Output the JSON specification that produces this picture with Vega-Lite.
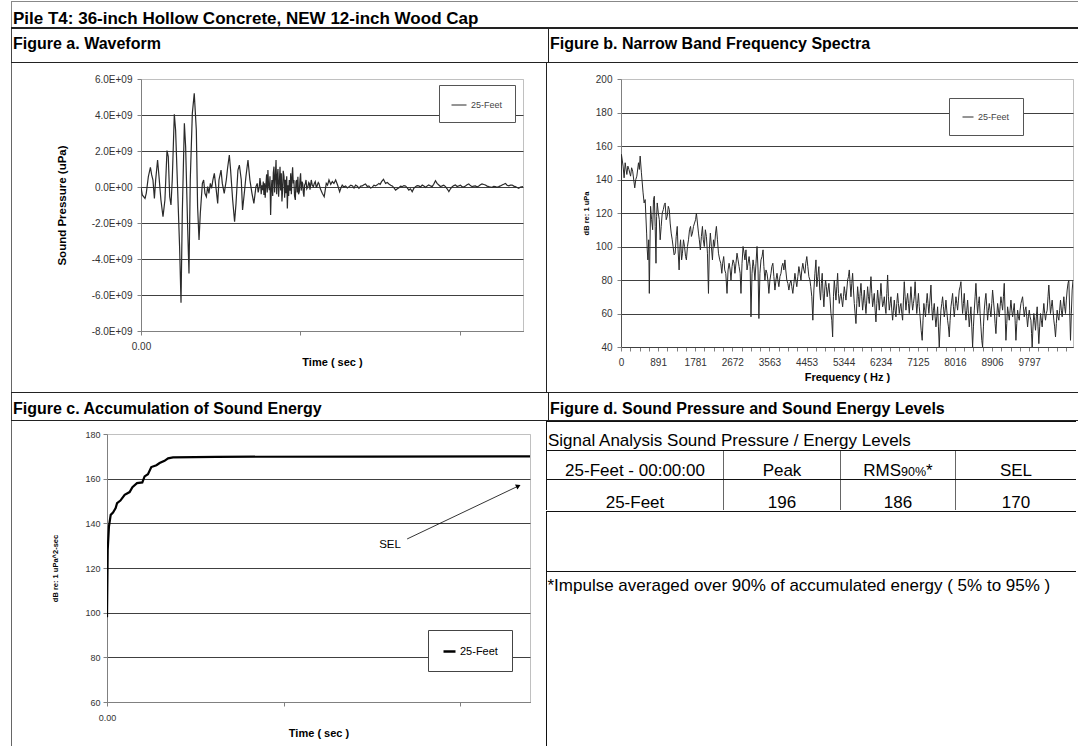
{
"$schema": "https://vega.github.io/schema/vega-lite/v6.json",
"background": "white",
"padding": {"left": 11, "top": 1, "right": 0, "bottom": 0},
"spacing": 0,
"bounds": "full",
"resolve": {"scale": {"color": "independent"}},
"config": {
  "font": "Liberation Sans",
  "view": {"stroke": null},
  "axis": {"labelFlush": false, "labelOverlap": false, "domainColor": "#808080", "tickColor": "#808080", "tickSize": 4, "labelColor": "#333333", "titleColor": "#000000", "titleFontWeight": "bold", "labelFontSize": 10, "gridColor": "#404040", "gridOpacity": 1},
  "text": {"color": "#000000"}
},
"datasets": {
"wave": [{"t":0,"p":0},{"t":0.008,"p":-0.44e9},{"t":0.025,"p":-0.63e9},{"t":0.033,"p":-0.35e9},{"t":0.046,"p":0.57e9},{"t":0.059,"p":1.09e9},{"t":0.067,"p":0.67e9},{"t":0.075,"p":0.39e9},{"t":0.084,"p":-0.63e9},{"t":0.092,"p":0.39e9},{"t":0.104,"p":1.5e9},{"t":0.113,"p":0.57e9},{"t":0.125,"p":-0.72e9},{"t":0.138,"p":-1.65e9},{"t":0.15,"p":-0.72e9},{"t":0.163,"p":2.02e9},{"t":0.171,"p":1.69e9},{"t":0.18,"p":-0.54e9},{"t":0.188,"p":-1.0e9},{"t":0.196,"p":0.39e9},{"t":0.209,"p":4.04e9},{"t":0.217,"p":3.17e9},{"t":0.23,"p":-0.17e9},{"t":0.242,"p":-3.3e9},{"t":0.251,"p":-6.43e9},{"t":0.259,"p":-1.46e9},{"t":0.272,"p":3.54e9},{"t":0.28,"p":2.24e9},{"t":0.293,"p":-2.39e9},{"t":0.301,"p":-4.8e9},{"t":0.309,"p":0.39e9},{"t":0.322,"p":4.09e9},{"t":0.334,"p":5.2e9},{"t":0.347,"p":3.17e9},{"t":0.355,"p":-1.09e9},{"t":0.364,"p":-2.94e9},{"t":0.372,"p":-1.46e9},{"t":0.385,"p":0.2e9},{"t":0.393,"p":0.39e9},{"t":0.401,"p":-0.35e9},{"t":0.41,"p":-0.54e9},{"t":0.418,"p":0.02e9},{"t":0.426,"p":-0.35e9},{"t":0.435,"p":0.2e9},{"t":0.443,"p":-0.07e9},{"t":0.451,"p":0.39e9},{"t":0.46,"p":0.76e9},{"t":0.472,"p":-0.17e9},{"t":0.481,"p":-0.91e9},{"t":0.489,"p":0.39e9},{"t":0.502,"p":0.94e9},{"t":0.51,"p":0.2e9},{"t":0.522,"p":-0.35e9},{"t":0.535,"p":0.39e9},{"t":0.543,"p":1.04e9},{"t":0.554,"p":1.78e9},{"t":0.562,"p":0.94e9},{"t":0.575,"p":-0.72e9},{"t":0.587,"p":-1.93e9},{"t":0.596,"p":-0.91e9},{"t":0.608,"p":0.94e9},{"t":0.617,"p":1.22e9},{"t":0.629,"p":0.39e9},{"t":0.637,"p":-1.28e9},{"t":0.65,"p":-0.17e9},{"t":0.658,"p":0.57e9},{"t":0.671,"p":1.5e9},{"t":0.683,"p":0.39e9},{"t":0.696,"p":-0.35e9},{"t":0.708,"p":-0.91e9},{"t":0.721,"p":0.02e9},{"t":0.729,"p":0.2e9},{"t":0.735,"p":-0.3e9},{"t":0.742,"p":0.02e9},{"t":0.746,"p":0.5e9},{"t":0.75,"p":0.2e9},{"t":0.754,"p":-0.4e9},{"t":0.758,"p":0.1e9},{"t":0.763,"p":-0.17e9},{"t":0.767,"p":0.3e9},{"t":0.771,"p":-0.44e9},{"t":0.775,"p":0.2e9},{"t":0.779,"p":-0.6e9},{"t":0.784,"p":0.2e9},{"t":0.788,"p":0.7e9},{"t":0.792,"p":-0.3e9},{"t":0.796,"p":0.94e9},{"t":0.8,"p":0.1e9},{"t":0.805,"p":-0.17e9},{"t":0.809,"p":0.6e9},{"t":0.813,"p":-1.56e9},{"t":0.817,"p":-0.2e9},{"t":0.821,"p":0.39e9},{"t":0.826,"p":-0.5e9},{"t":0.83,"p":0.8e9},{"t":0.834,"p":1.13e9},{"t":0.838,"p":-0.3e9},{"t":0.842,"p":0.5e9},{"t":0.847,"p":1.5e9},{"t":0.851,"p":-0.4e9},{"t":0.855,"p":0.57e9},{"t":0.859,"p":1.0e9},{"t":0.863,"p":-0.54e9},{"t":0.868,"p":0.3e9},{"t":0.872,"p":1.13e9},{"t":0.876,"p":-0.2e9},{"t":0.88,"p":0.76e9},{"t":0.884,"p":-0.8e9},{"t":0.888,"p":-0.17e9},{"t":0.892,"p":0.9e9},{"t":0.897,"p":0.57e9},{"t":0.901,"p":-0.6e9},{"t":0.905,"p":0.4e9},{"t":0.909,"p":-0.35e9},{"t":0.914,"p":0.6e9},{"t":0.918,"p":-1.19e9},{"t":0.922,"p":0.1e9},{"t":0.926,"p":-0.5e9},{"t":0.93,"p":0.39e9},{"t":0.935,"p":-0.2e9},{"t":0.939,"p":0.76e9},{"t":0.943,"p":-0.4e9},{"t":0.947,"p":0.5e9},{"t":0.951,"p":1.09e9},{"t":0.955,"p":0.2e9},{"t":0.959,"p":0.39e9},{"t":0.963,"p":-0.5e9},{"t":0.968,"p":-0.72e9},{"t":0.972,"p":0.3e9},{"t":0.976,"p":0.39e9},{"t":0.98,"p":-0.3e9},{"t":0.984,"p":0.57e9},{"t":0.988,"p":-0.4e9},{"t":0.993,"p":-0.26e9},{"t":0.997,"p":0.4e9},{"t":1.001,"p":0.76e9},{"t":1.005,"p":-0.2e9},{"t":1.01,"p":0.3e9},{"t":1.014,"p":0.2e9},{"t":1.018,"p":-0.3e9},{"t":1.022,"p":-0.54e9},{"t":1.026,"p":0.1e9},{"t":1.031,"p":0.2e9},{"t":1.035,"p":0.39e9},{"t":1.04,"p":-0.1e9},{"t":1.047,"p":0.02e9},{"t":1.052,"p":0.25e9},{"t":1.056,"p":0.2e9},{"t":1.06,"p":-0.15e9},{"t":1.068,"p":0.39e9},{"t":1.074,"p":0.1e9},{"t":1.081,"p":0.02e9},{"t":1.087,"p":0.2e9},{"t":1.093,"p":0.3e9},{"t":1.1,"p":-0.05e9},{"t":1.106,"p":0.11e9},{"t":1.112,"p":0.25e9},{"t":1.116,"p":0.2e9},{"t":1.125,"p":-0.1e9},{"t":1.137,"p":-0.35e9},{"t":1.149,"p":-0.54e9},{"t":1.155,"p":-0.2e9},{"t":1.162,"p":0.2e9},{"t":1.17,"p":0.1e9},{"t":1.179,"p":0.39e9},{"t":1.19,"p":0.15e9},{"t":1.2,"p":0.3e9},{"t":1.21,"p":0.2e9},{"t":1.221,"p":0.39e9},{"t":1.233,"p":0.11e9},{"t":1.246,"p":-0.26e9},{"t":1.254,"p":-0.05e9},{"t":1.262,"p":0.11e9},{"t":1.272,"p":0},{"t":1.283,"p":0.06e9},{"t":1.294,"p":-0.05e9},{"t":1.305,"p":0.02e9},{"t":1.316,"p":0.1e9},{"t":1.327,"p":0.06e9},{"t":1.336,"p":-0.06e9},{"t":1.346,"p":0.11e9},{"t":1.357,"p":0.04e9},{"t":1.367,"p":-0.07e9},{"t":1.378,"p":0.05e9},{"t":1.388,"p":0.06e9},{"t":1.398,"p":0.12e9},{"t":1.408,"p":0.17e9},{"t":1.419,"p":0.03e9},{"t":1.429,"p":0.06e9},{"t":1.44,"p":-0.06e9},{"t":1.45,"p":-0.02e9},{"t":1.461,"p":0.1e9},{"t":1.471,"p":0.06e9},{"t":1.482,"p":0.12e9},{"t":1.492,"p":0.2e9},{"t":1.5,"p":0.15e9},{"t":1.509,"p":0.3e9},{"t":1.521,"p":0.43e9},{"t":1.534,"p":0.2e9},{"t":1.545,"p":0.25e9},{"t":1.555,"p":0.17e9},{"t":1.566,"p":0.1e9},{"t":1.576,"p":0.06e9},{"t":1.587,"p":-0.05e9},{"t":1.597,"p":-0.17e9},{"t":1.608,"p":-0.1e9},{"t":1.618,"p":-0.04e9},{"t":1.628,"p":0.05e9},{"t":1.638,"p":0.02e9},{"t":1.649,"p":0.08e9},{"t":1.659,"p":0.06e9},{"t":1.67,"p":-0.05e9},{"t":1.68,"p":-0.17e9},{"t":1.69,"p":-0.1e9},{"t":1.701,"p":-0.26e9},{"t":1.711,"p":-0.08e9},{"t":1.722,"p":0.02e9},{"t":1.732,"p":0.08e9},{"t":1.743,"p":0.06e9},{"t":1.753,"p":0},{"t":1.764,"p":0.11e9},{"t":1.774,"p":0.05e9},{"t":1.785,"p":-0.02e9},{"t":1.795,"p":0.06e9},{"t":1.805,"p":0.11e9},{"t":1.816,"p":0.06e9},{"t":1.826,"p":0.02e9},{"t":1.836,"p":0.15e9},{"t":1.847,"p":0.35e9},{"t":1.857,"p":0.2e9},{"t":1.868,"p":0.11e9},{"t":1.878,"p":0.03e9},{"t":1.889,"p":0.06e9},{"t":1.899,"p":0.1e9},{"t":1.91,"p":0.02e9},{"t":1.92,"p":-0.1e9},{"t":1.931,"p":-0.26e9},{"t":1.941,"p":-0.1e9},{"t":1.952,"p":0.02e9},{"t":1.962,"p":0.08e9},{"t":1.972,"p":0.11e9},{"t":1.983,"p":0.03e9},{"t":1.993,"p":0.06e9},{"t":2.004,"p":0.1e9},{"t":2.014,"p":0.02e9},{"t":2.024,"p":0},{"t":2.035,"p":0.06e9},{"t":2.045,"p":0.12e9},{"t":2.056,"p":0.17e9},{"t":2.066,"p":0.08e9},{"t":2.077,"p":0.02e9},{"t":2.087,"p":0.05e9},{"t":2.098,"p":0.06e9},{"t":2.108,"p":0},{"t":2.119,"p":0.06e9},{"t":2.129,"p":0.12e9},{"t":2.139,"p":0.17e9},{"t":2.15,"p":0.14e9},{"t":2.16,"p":0.11e9},{"t":2.171,"p":0.05e9},{"t":2.181,"p":0.02e9},{"t":2.192,"p":0},{"t":2.202,"p":-0.02e9},{"t":2.212,"p":0.03e9},{"t":2.223,"p":0.02e9},{"t":2.233,"p":-0.02e9},{"t":2.244,"p":0.02e9},{"t":2.254,"p":0.06e9},{"t":2.265,"p":0.11e9},{"t":2.275,"p":0.15e9},{"t":2.286,"p":0.2e9},{"t":2.296,"p":0.1e9},{"t":2.307,"p":0.06e9},{"t":2.317,"p":0.1e9},{"t":2.328,"p":0.11e9},{"t":2.338,"p":0.05e9},{"t":2.348,"p":0.02e9},{"t":2.359,"p":-0.03e9},{"t":2.369,"p":-0.07e9},{"t":2.38,"p":0},{"t":2.396,"p":0.02e9}],
"spec": [{"f":0,"db":40},{"f":10,"db":155},{"f":50,"db":148},{"f":75,"db":141},{"f":100,"db":150},{"f":140,"db":143},{"f":165,"db":148},{"f":190,"db":146},{"f":230,"db":142},{"f":255,"db":147},{"f":280,"db":145},{"f":330,"db":135},{"f":355,"db":140},{"f":380,"db":142},{"f":420,"db":150},{"f":440,"db":146},{"f":460,"db":154},{"f":490,"db":144},{"f":530,"db":132},{"f":555,"db":126},{"f":580,"db":128},{"f":615,"db":108},{"f":630,"db":98},{"f":645,"db":92},{"f":665,"db":104},{"f":680,"db":72},{"f":695,"db":100},{"f":710,"db":124},{"f":735,"db":116},{"f":760,"db":110},{"f":780,"db":128},{"f":800,"db":130},{"f":820,"db":112},{"f":840,"db":90},{"f":855,"db":118},{"f":870,"db":126},{"f":895,"db":120},{"f":920,"db":116},{"f":940,"db":104},{"f":965,"db":112},{"f":990,"db":120},{"f":1015,"db":122},{"f":1040,"db":125},{"f":1060,"db":126},{"f":1085,"db":116},{"f":1110,"db":118},{"f":1135,"db":124},{"f":1160,"db":122},{"f":1180,"db":114},{"f":1205,"db":108},{"f":1230,"db":104},{"f":1250,"db":100},{"f":1275,"db":95},{"f":1300,"db":96},{"f":1325,"db":106},{"f":1350,"db":112},{"f":1370,"db":98},{"f":1395,"db":86},{"f":1415,"db":100},{"f":1430,"db":104},{"f":1455,"db":92},{"f":1475,"db":96},{"f":1500,"db":104},{"f":1525,"db":100},{"f":1550,"db":94},{"f":1570,"db":92},{"f":1595,"db":100},{"f":1620,"db":104},{"f":1645,"db":110},{"f":1670,"db":112},{"f":1690,"db":106},{"f":1715,"db":108},{"f":1740,"db":112},{"f":1765,"db":114},{"f":1790,"db":116},{"f":1810,"db":120},{"f":1835,"db":114},{"f":1860,"db":108},{"f":1880,"db":104},{"f":1905,"db":98},{"f":1930,"db":106},{"f":1955,"db":112},{"f":1975,"db":104},{"f":2000,"db":100},{"f":2025,"db":110},{"f":2050,"db":106},{"f":2075,"db":96},{"f":2100,"db":72},{"f":2120,"db":98},{"f":2145,"db":108},{"f":2170,"db":100},{"f":2195,"db":92},{"f":2220,"db":104},{"f":2245,"db":100},{"f":2270,"db":108},{"f":2290,"db":112},{"f":2315,"db":104},{"f":2340,"db":96},{"f":2370,"db":92},{"f":2395,"db":90},{"f":2420,"db":84},{"f":2440,"db":90},{"f":2465,"db":94},{"f":2490,"db":86},{"f":2515,"db":84},{"f":2545,"db":72},{"f":2570,"db":86},{"f":2595,"db":90},{"f":2620,"db":86},{"f":2640,"db":80},{"f":2665,"db":88},{"f":2690,"db":92},{"f":2715,"db":90},{"f":2735,"db":84},{"f":2760,"db":90},{"f":2785,"db":96},{"f":2810,"db":92},{"f":2835,"db":88},{"f":2860,"db":84},{"f":2880,"db":72},{"f":2905,"db":90},{"f":2930,"db":100},{"f":2955,"db":96},{"f":2975,"db":92},{"f":3000,"db":98},{"f":3025,"db":86},{"f":3050,"db":90},{"f":3075,"db":94},{"f":3100,"db":88},{"f":3120,"db":58},{"f":3145,"db":84},{"f":3170,"db":92},{"f":3190,"db":88},{"f":3215,"db":80},{"f":3240,"db":90},{"f":3265,"db":100},{"f":3290,"db":86},{"f":3310,"db":57},{"f":3335,"db":84},{"f":3360,"db":92},{"f":3385,"db":94},{"f":3410,"db":98},{"f":3430,"db":88},{"f":3455,"db":80},{"f":3480,"db":86},{"f":3505,"db":84},{"f":3525,"db":80},{"f":3550,"db":72},{"f":3575,"db":80},{"f":3600,"db":84},{"f":3620,"db":88},{"f":3645,"db":90},{"f":3670,"db":82},{"f":3695,"db":74},{"f":3720,"db":80},{"f":3745,"db":84},{"f":3765,"db":80},{"f":3790,"db":76},{"f":3815,"db":82},{"f":3840,"db":84},{"f":3860,"db":88},{"f":3885,"db":90},{"f":3910,"db":86},{"f":3935,"db":92},{"f":3955,"db":86},{"f":3980,"db":80},{"f":4005,"db":78},{"f":4030,"db":74},{"f":4055,"db":78},{"f":4080,"db":80},{"f":4100,"db":76},{"f":4125,"db":72},{"f":4150,"db":78},{"f":4175,"db":84},{"f":4195,"db":80},{"f":4220,"db":76},{"f":4245,"db":82},{"f":4270,"db":88},{"f":4295,"db":84},{"f":4320,"db":80},{"f":4340,"db":86},{"f":4365,"db":90},{"f":4390,"db":86},{"f":4415,"db":84},{"f":4435,"db":90},{"f":4460,"db":94},{"f":4485,"db":88},{"f":4510,"db":82},{"f":4535,"db":80},{"f":4555,"db":76},{"f":4580,"db":70},{"f":4605,"db":56},{"f":4630,"db":74},{"f":4655,"db":84},{"f":4680,"db":92},{"f":4700,"db":76},{"f":4725,"db":82},{"f":4750,"db":88},{"f":4770,"db":74},{"f":4790,"db":68},{"f":4810,"db":78},{"f":4830,"db":84},{"f":4850,"db":72},{"f":4870,"db":64},{"f":4890,"db":74},{"f":4910,"db":80},{"f":4930,"db":76},{"f":4950,"db":70},{"f":4970,"db":74},{"f":4990,"db":78},{"f":5015,"db":70},{"f":5040,"db":60},{"f":5060,"db":56},{"f":5080,"db":46},{"f":5100,"db":70},{"f":5120,"db":80},{"f":5140,"db":74},{"f":5160,"db":68},{"f":5180,"db":76},{"f":5200,"db":84},{"f":5220,"db":72},{"f":5240,"db":66},{"f":5260,"db":70},{"f":5280,"db":72},{"f":5300,"db":68},{"f":5320,"db":64},{"f":5340,"db":70},{"f":5360,"db":76},{"f":5380,"db":72},{"f":5400,"db":68},{"f":5420,"db":74},{"f":5440,"db":80},{"f":5460,"db":82},{"f":5480,"db":86},{"f":5500,"db":78},{"f":5520,"db":70},{"f":5540,"db":78},{"f":5560,"db":84},{"f":5580,"db":74},{"f":5600,"db":66},{"f":5620,"db":60},{"f":5640,"db":54},{"f":5660,"db":66},{"f":5680,"db":76},{"f":5700,"db":70},{"f":5720,"db":64},{"f":5740,"db":72},{"f":5760,"db":78},{"f":5780,"db":70},{"f":5800,"db":62},{"f":5820,"db":68},{"f":5840,"db":74},{"f":5860,"db":66},{"f":5880,"db":60},{"f":5900,"db":68},{"f":5920,"db":76},{"f":5940,"db":70},{"f":5960,"db":66},{"f":5980,"db":74},{"f":6000,"db":82},{"f":6020,"db":72},{"f":6040,"db":64},{"f":6060,"db":68},{"f":6080,"db":72},{"f":6100,"db":62},{"f":6120,"db":55},{"f":6140,"db":66},{"f":6160,"db":74},{"f":6180,"db":68},{"f":6200,"db":62},{"f":6220,"db":70},{"f":6240,"db":78},{"f":6260,"db":70},{"f":6280,"db":64},{"f":6300,"db":66},{"f":6320,"db":70},{"f":6340,"db":64},{"f":6360,"db":60},{"f":6380,"db":72},{"f":6400,"db":83},{"f":6420,"db":70},{"f":6440,"db":62},{"f":6460,"db":66},{"f":6480,"db":70},{"f":6500,"db":62},{"f":6520,"db":56},{"f":6540,"db":62},{"f":6560,"db":68},{"f":6580,"db":62},{"f":6600,"db":58},{"f":6620,"db":66},{"f":6640,"db":72},{"f":6660,"db":66},{"f":6680,"db":60},{"f":6700,"db":64},{"f":6720,"db":66},{"f":6740,"db":60},{"f":6760,"db":56},{"f":6780,"db":68},{"f":6800,"db":79},{"f":6820,"db":70},{"f":6840,"db":62},{"f":6860,"db":68},{"f":6880,"db":72},{"f":6900,"db":66},{"f":6920,"db":60},{"f":6940,"db":68},{"f":6960,"db":76},{"f":6980,"db":68},{"f":7000,"db":62},{"f":7020,"db":66},{"f":7040,"db":70},{"f":7060,"db":79},{"f":7080,"db":68},{"f":7100,"db":60},{"f":7120,"db":66},{"f":7140,"db":72},{"f":7160,"db":64},{"f":7180,"db":58},{"f":7205,"db":50},{"f":7230,"db":44},{"f":7250,"db":56},{"f":7270,"db":66},{"f":7290,"db":62},{"f":7310,"db":58},{"f":7330,"db":66},{"f":7350,"db":72},{"f":7370,"db":66},{"f":7390,"db":60},{"f":7415,"db":68},{"f":7440,"db":77},{"f":7460,"db":64},{"f":7480,"db":56},{"f":7500,"db":62},{"f":7520,"db":66},{"f":7540,"db":58},{"f":7560,"db":52},{"f":7580,"db":58},{"f":7600,"db":64},{"f":7620,"db":52},{"f":7640,"db":40},{"f":7660,"db":52},{"f":7680,"db":62},{"f":7700,"db":66},{"f":7720,"db":70},{"f":7740,"db":64},{"f":7760,"db":58},{"f":7780,"db":62},{"f":7800,"db":68},{"f":7820,"db":62},{"f":7840,"db":56},{"f":7860,"db":52},{"f":7880,"db":46},{"f":7900,"db":56},{"f":7920,"db":64},{"f":7940,"db":68},{"f":7960,"db":72},{"f":7980,"db":64},{"f":8000,"db":58},{"f":8020,"db":64},{"f":8040,"db":70},{"f":8060,"db":66},{"f":8080,"db":62},{"f":8100,"db":68},{"f":8120,"db":74},{"f":8140,"db":76},{"f":8160,"db":79},{"f":8180,"db":68},{"f":8200,"db":60},{"f":8220,"db":66},{"f":8240,"db":72},{"f":8260,"db":62},{"f":8280,"db":56},{"f":8300,"db":62},{"f":8320,"db":68},{"f":8340,"db":60},{"f":8360,"db":52},{"f":8380,"db":58},{"f":8400,"db":64},{"f":8420,"db":52},{"f":8440,"db":40},{"f":8460,"db":52},{"f":8480,"db":62},{"f":8500,"db":70},{"f":8520,"db":78},{"f":8540,"db":68},{"f":8560,"db":60},{"f":8580,"db":66},{"f":8600,"db":70},{"f":8620,"db":60},{"f":8640,"db":52},{"f":8660,"db":44},{"f":8680,"db":40},{"f":8700,"db":52},{"f":8720,"db":62},{"f":8740,"db":68},{"f":8760,"db":72},{"f":8780,"db":64},{"f":8800,"db":56},{"f":8820,"db":62},{"f":8840,"db":66},{"f":8860,"db":62},{"f":8880,"db":58},{"f":8900,"db":66},{"f":8920,"db":74},{"f":8940,"db":68},{"f":8960,"db":62},{"f":8980,"db":54},{"f":9000,"db":48},{"f":9020,"db":58},{"f":9040,"db":66},{"f":9060,"db":62},{"f":9080,"db":58},{"f":9100,"db":64},{"f":9120,"db":70},{"f":9140,"db":66},{"f":9160,"db":62},{"f":9180,"db":70},{"f":9200,"db":78},{"f":9220,"db":60},{"f":9240,"db":44},{"f":9260,"db":54},{"f":9280,"db":64},{"f":9300,"db":60},{"f":9320,"db":56},{"f":9340,"db":62},{"f":9360,"db":68},{"f":9380,"db":62},{"f":9400,"db":58},{"f":9420,"db":62},{"f":9440,"db":66},{"f":9460,"db":56},{"f":9480,"db":44},{"f":9500,"db":54},{"f":9520,"db":62},{"f":9540,"db":58},{"f":9560,"db":56},{"f":9580,"db":62},{"f":9600,"db":66},{"f":9620,"db":68},{"f":9640,"db":70},{"f":9660,"db":64},{"f":9680,"db":58},{"f":9700,"db":62},{"f":9720,"db":64},{"f":9740,"db":58},{"f":9760,"db":52},{"f":9780,"db":58},{"f":9800,"db":62},{"f":9820,"db":58},{"f":9840,"db":56},{"f":9855,"db":48},{"f":9870,"db":40},{"f":9890,"db":52},{"f":9910,"db":60},{"f":9930,"db":56},{"f":9950,"db":50},{"f":9970,"db":58},{"f":9990,"db":64},{"f":10010,"db":52},{"f":10030,"db":42},{"f":10050,"db":52},{"f":10070,"db":60},{"f":10090,"db":56},{"f":10110,"db":52},{"f":10130,"db":60},{"f":10150,"db":66},{"f":10170,"db":60},{"f":10190,"db":56},{"f":10210,"db":60},{"f":10230,"db":62},{"f":10250,"db":70},{"f":10270,"db":77},{"f":10290,"db":68},{"f":10310,"db":60},{"f":10330,"db":64},{"f":10350,"db":68},{"f":10370,"db":62},{"f":10390,"db":56},{"f":10410,"db":52},{"f":10430,"db":46},{"f":10450,"db":54},{"f":10470,"db":62},{"f":10490,"db":58},{"f":10510,"db":56},{"f":10530,"db":62},{"f":10550,"db":68},{"f":10570,"db":62},{"f":10590,"db":58},{"f":10610,"db":64},{"f":10630,"db":70},{"f":10650,"db":64},{"f":10670,"db":60},{"f":10690,"db":68},{"f":10710,"db":74},{"f":10730,"db":78},{"f":10750,"db":80},{"f":10770,"db":62},{"f":10790,"db":44},{"f":10810,"db":60},{"f":10830,"db":74},{"f":10850,"db":80}],
"sel": [{"t":0,"db":98},{"t":0.004,"db":128},{"t":0.011,"db":138.6},{"t":0.021,"db":143.8},{"t":0.034,"db":144.8},{"t":0.049,"db":146.8},{"t":0.057,"db":149},{"t":0.076,"db":150.2},{"t":0.1,"db":152.8},{"t":0.128,"db":154},{"t":0.144,"db":156.2},{"t":0.17,"db":158},{"t":0.2,"db":158.3},{"t":0.213,"db":161},{"t":0.232,"db":162},{"t":0.251,"db":165.2},{"t":0.28,"db":166},{"t":0.298,"db":167},{"t":0.326,"db":168},{"t":0.346,"db":169.1},{"t":0.374,"db":169.5},{"t":0.62,"db":169.8},{"t":1.5,"db":169.9},{"t":2.396,"db":170}],
"arrow": [{"t":1.7,"db":133},{"t":2.33,"db":156.7}]
},
"vconcat": [
  {"width": 1067, "height": 1, "view": {"fill": "#888888", "stroke": null}, "data": {"values": []}, "mark": "point"},
  {"hconcat": [
    {"width": 1, "height": 25, "view": {"fill": "#888888", "stroke": null}, "data": {"values": []}, "mark": "point"},
    {"width": 1066, "height": 25, "data": {"values": [{"txt": "Pile T4: 36-inch Hollow Concrete, NEW 12-inch Wood Cap"}]}, "mark": {"type": "text", "align": "left", "baseline": "alphabetic", "dx": 1, "dy": 9.5, "fontSize": 17, "fontWeight": "bold"}, "encoding": {"text": {"field": "txt"}, "x": {"datum": 0, "type": "quantitative", "scale": {"domain": [0, 1]}, "axis": null}}}
  ], "spacing": 0, "bounds": "flush"},
  {"width": 1067, "height": 2, "view": {"fill": "#222222", "stroke": null}, "data": {"values": []}, "mark": "point"},
  {"hconcat": [
    {"width": 1, "height": 33, "view": {"fill": "#444444", "stroke": null}, "data": {"values": []}, "mark": "point"},
    {"width": 536, "height": 33, "data": {"values": [{"txt": "Figure a. Waveform"}]}, "mark": {"type": "text", "align": "left", "baseline": "alphabetic", "dx": 1, "dy": 3.5, "fontSize": 16, "fontWeight": "bold"}, "encoding": {"text": {"field": "txt"}, "x": {"datum": 0, "type": "quantitative", "scale": {"domain": [0, 1]}, "axis": null}}},
    {"width": 1, "height": 33, "view": {"fill": "#222222", "stroke": null}, "data": {"values": []}, "mark": "point"},
    {"width": 529, "height": 33, "data": {"values": [{"txt": "Figure b. Narrow Band Frequency Spectra"}]}, "mark": {"type": "text", "align": "left", "baseline": "alphabetic", "dx": 1, "dy": 3.5, "fontSize": 16, "fontWeight": "bold"}, "encoding": {"text": {"field": "txt"}, "x": {"datum": 0, "type": "quantitative", "scale": {"domain": [0, 1]}, "axis": null}}}
  ], "spacing": 0, "bounds": "flush"},
  {"width": 1067, "height": 1, "view": {"fill": "#222222", "stroke": null}, "data": {"values": []}, "mark": "point"},
  {"hconcat": [
    {"width": 1, "height": 329, "view": {"fill": "#666666", "stroke": null}, "data": {"values": []}, "mark": "point"},
    {"width": 43, "height": 329, "data": {"values": []}, "mark": "point"},
    {"vconcat": [
      {"width": 382, "height": 16, "data": {"values": []}, "mark": "point"},
      {"width": 382, "height": 252, "view": {"stroke": "#c0c0c0"}, "data": {"name": "wave"},
       "mark": {"type": "line", "strokeWidth": 1.2, "clip": true},
       "encoding": {
         "x": {"field": "t", "type": "quantitative", "scale": {"domain": [0, 2.396], "nice": false, "zero": false},
               "axis": {"values": [0, 1, 2], "labelExpr": "datum.value == 0 ? '0.00' : ''", "grid": false, "title": "Time ( sec )", "titleFontSize": 11, "labelPadding": 6, "titlePadding": 5}},
         "y": {"field": "p", "type": "quantitative", "scale": {"domain": [-8e9, 6e9], "nice": false, "zero": false},
               "axis": {"values": [-8e9, -6e9, -4e9, -2e9, 0, 2e9, 4e9, 6e9], "labelExpr": "datum.value == 0 ? '0.0E+00' : (datum.value < 0 ? '-' : '') + format(abs(datum.value) / 1e9, '.1f') + 'E+09'", "grid": true, "gridColor": {"condition": {"test": "datum.value >= 6e9", "value": "#c0c0c0"}, "value": "#404040"}, "title": "Sound Pressure (uPa)", "titleFontSize": 11.5, "titlePadding": 24, "labelPadding": 5}},
         "color": {"datum": "25-Feet", "type": "nominal", "scale": {"range": ["#2a2a2a"]}, "legend": {"orient": "none", "legendX": 298, "legendY": 22, "title": null, "padding": 12, "fillColor": "#ffffff", "strokeColor": "#555555", "symbolType": "stroke", "symbolSize": 225, "symbolStrokeWidth": 1, "labelFontSize": 9, "labelColor": "#444444", "labelOffset": 4}}
       }}
    ], "spacing": 0, "bounds": "flush"},
    {"width": 21.5, "height": 329, "data": {"values": []}, "mark": "point"},
    {"width": 1, "height": 329, "view": {"fill": "#222222", "stroke": null}, "data": {"values": []}, "mark": "point"},
    {"width": 33.5, "height": 329, "data": {"values": []}, "mark": "point"},
    {"vconcat": [
      {"width": 452, "height": 16, "data": {"values": []}, "mark": "point"},
      {"width": 452, "height": 268, "view": {"stroke": "#c0c0c0"}, "data": {"name": "spec"},
       "mark": {"type": "line", "strokeWidth": 1, "clip": true},
       "encoding": {
         "x": {"field": "f", "type": "quantitative", "scale": {"domain": [0, 10850], "nice": false, "zero": false},
               "axis": {"values": [0, 222.65625, 445.3125, 667.96875, 890.625, 1113.28125, 1335.9375, 1558.59375, 1781.25, 2003.90625, 2226.5625, 2449.21875, 2671.875, 2894.53125, 3117.1875, 3339.84375, 3562.5, 3785.15625, 4007.8125, 4230.46875, 4453.125, 4675.78125, 4898.4375, 5121.09375, 5343.75, 5566.40625, 5789.0625, 6011.71875, 6234.375, 6457.03125, 6679.6875, 6902.34375, 7125, 7347.65625, 7570.3125, 7792.96875, 8015.625, 8238.28125, 8460.9375, 8683.59375, 8906.25, 9128.90625, 9351.5625, 9574.21875, 9796.875, 10019.53125, 10242.1875, 10464.84375, 10687.5], "labelExpr": "datum.value < 10000 && abs(datum.value / 890.625 - round(datum.value / 890.625)) < 0.001 ? format(datum.value, 'd') : ''", "grid": false, "title": "Frequency ( Hz )", "titleFontSize": 11, "labelPadding": 6, "titlePadding": 4, "domainColor": "#404040"}},
         "y": {"field": "db", "type": "quantitative", "scale": {"domain": [40, 200], "nice": false, "zero": false},
               "axis": {"values": [40, 60, 80, 100, 120, 140, 160, 180, 200], "grid": true, "gridColor": {"condition": {"test": "datum.value >= 200", "value": "#c0c0c0"}, "value": "#404040"}, "title": "dB re: 1 uPa", "titleFontSize": 7.5, "titlePadding": 5, "labelPadding": 5}},
         "color": {"datum": "25-Feet", "type": "nominal", "scale": {"range": ["#2a2a2a"]}, "legend": {"orient": "none", "legendX": 328, "legendY": 35, "title": null, "padding": 13, "fillColor": "#ffffff", "strokeColor": "#555555", "symbolType": "stroke", "symbolSize": 121, "symbolStrokeWidth": 1, "labelFontSize": 9, "labelColor": "#444444", "labelOffset": 4}}
       }}
    ], "spacing": 0, "bounds": "flush"}
  ], "spacing": 0, "bounds": "full", "resolve": {"scale": {"color": "independent"}}},
  {"width": 1067, "height": 1, "view": {"fill": "#222222", "stroke": null}, "data": {"values": []}, "mark": "point"},
  {"hconcat": [
    {"width": 1, "height": 27, "view": {"fill": "#444444", "stroke": null}, "data": {"values": []}, "mark": "point"},
    {"width": 536, "height": 27, "data": {"values": [{"txt": "Figure c. Accumulation of Sound Energy"}]}, "mark": {"type": "text", "align": "left", "baseline": "alphabetic", "dx": 1, "dy": 7, "fontSize": 16, "fontWeight": "bold"}, "encoding": {"text": {"field": "txt"}, "x": {"datum": 0, "type": "quantitative", "scale": {"domain": [0, 1]}, "axis": null}}},
    {"width": 1, "height": 27, "view": {"fill": "#222222", "stroke": null}, "data": {"values": []}, "mark": "point"},
    {"width": 529, "height": 27, "data": {"values": [{"txt": "Figure d. Sound Pressure and Sound Energy Levels"}]}, "mark": {"type": "text", "align": "left", "baseline": "alphabetic", "dx": 1, "dy": 7, "fontSize": 16, "fontWeight": "bold"}, "encoding": {"text": {"field": "txt"}, "x": {"datum": 0, "type": "quantitative", "scale": {"domain": [0, 1]}, "axis": null}}}
  ], "spacing": 0, "bounds": "flush"},
  {"width": 1067, "height": 1, "view": {"fill": "#222222", "stroke": null}, "data": {"values": []}, "mark": "point"},
  {"hconcat": [
    {"width": 1, "height": 325, "view": {"fill": "#666666", "stroke": null}, "data": {"values": []}, "mark": "point"},
    {"width": 38.5, "height": 325, "data": {"values": []}, "mark": "point"},
    {"vconcat": [
      {"width": 423, "height": 13, "data": {"values": []}, "mark": "point"},
      {"width": 423, "height": 268, "view": {"stroke": "#c0c0c0"},
       "layer": [
         {"data": {"name": "sel"}, "mark": {"type": "line", "strokeWidth": 2.2, "clip": true},
          "encoding": {
            "x": {"field": "t", "type": "quantitative", "scale": {"domain": [0, 2.396], "nice": false, "zero": false},
                  "axis": {"values": [0, 1, 2], "labelExpr": "datum.value == 0 ? '0.00' : ''", "grid": false, "title": "Time ( sec )", "titleFontSize": 11, "labelFontSize": 9, "labelPadding": 7, "titlePadding": 5}},
            "y": {"field": "db", "type": "quantitative", "scale": {"domain": [60, 180], "nice": false, "zero": false},
                  "axis": {"values": [60, 80, 100, 120, 140, 160, 180], "grid": true, "gridColor": {"condition": {"test": "datum.value >= 180", "value": "#c0c0c0"}, "value": "#404040"}, "title": "dB re: 1 uPa^2-sec", "titleFontSize": 7.5, "titlePadding": 25, "labelFontSize": 9, "labelPadding": 3}},
            "color": {"datum": "25-Feet", "type": "nominal", "scale": {"range": ["#000000"]}, "legend": {"orient": "none", "legendX": 321, "legendY": 209, "title": null, "padding": 14, "fillColor": "#ffffff", "strokeColor": "#444444", "symbolType": "stroke", "symbolSize": 144, "symbolStrokeWidth": 2.5, "labelFontSize": 11, "labelColor": "#000000", "labelOffset": 3}}
          }},
         {"data": {"name": "arrow"}, "mark": {"type": "line", "strokeWidth": 0.8, "color": "#000000"},
          "encoding": {"x": {"field": "t", "type": "quantitative"}, "y": {"field": "db", "type": "quantitative"}}},
         {"data": {"values": [{"t": 2.33, "db": 156.7}]}, "mark": {"type": "point", "shape": "triangle-right", "angle": 334.5, "size": 30, "filled": true, "opacity": 1, "color": "#000000"},
          "encoding": {"x": {"field": "t", "type": "quantitative"}, "y": {"field": "db", "type": "quantitative"}}},
         {"data": {"values": [{"t": 1.603, "db": 130.3, "label": "SEL"}]}, "mark": {"type": "text", "fontSize": 11.5, "color": "#000000"},
          "encoding": {"x": {"field": "t", "type": "quantitative"}, "y": {"field": "db", "type": "quantitative"}, "text": {"field": "label"}}}
       ]}
    ], "spacing": 0, "bounds": "flush"},
    {"width": 15, "height": 325, "data": {"values": []}, "mark": "point"},
    {"vconcat": [
      {"width": 530, "height": 1, "view": {"fill": "#111111", "stroke": null}, "data": {"values": []}, "mark": "point"},
      {"hconcat": [
        {"width": 1, "height": 28, "view": {"fill": "#111111", "stroke": null}, "data": {"values": []}, "mark": "point"},
        {"width": 529, "height": 28, "data": {"values": [{"txt": "Signal Analysis Sound Pressure / Energy Levels"}]}, "mark": {"type": "text", "align": "left", "baseline": "alphabetic", "dx": 1, "dy": 9.5, "fontSize": 17}, "encoding": {"text": {"field": "txt"}, "x": {"datum": 0, "type": "quantitative", "scale": {"domain": [0, 1]}, "axis": null}}}
      ], "spacing": 0, "bounds": "flush"},
      {"width": 530, "height": 1, "view": {"fill": "#111111", "stroke": null}, "data": {"values": []}, "mark": "point"},
      {"hconcat": [
        {"width": 1, "height": 28, "view": {"fill": "#111111", "stroke": null}, "data": {"values": []}, "mark": "point"},
        {"width": 176, "height": 28, "data": {"values": [{"txt": "25-Feet - 00:00:00"}]}, "mark": {"type": "text", "baseline": "alphabetic", "dy": 11, "fontSize": 17}, "encoding": {"text": {"field": "txt"}}},
        {"width": 1, "height": 28, "view": {"fill": "#666666", "stroke": null}, "data": {"values": []}, "mark": "point"},
        {"width": 116, "height": 28, "data": {"values": [{"txt": "Peak"}]}, "mark": {"type": "text", "baseline": "alphabetic", "dy": 11, "fontSize": 17}, "encoding": {"text": {"field": "txt"}}},
        {"width": 1, "height": 28, "view": {"fill": "#666666", "stroke": null}, "data": {"values": []}, "mark": "point"},
        {"width": 114, "height": 28, "data": {"values": [{"a": "RMS", "b": "90%", "c": "*"}]},
         "layer": [
           {"mark": {"type": "text", "align": "right", "baseline": "alphabetic", "dx": 3, "dy": 11, "fontSize": 17}, "encoding": {"text": {"field": "a"}}},
           {"mark": {"type": "text", "align": "left", "baseline": "alphabetic", "dx": 3, "dy": 11, "fontSize": 12.5}, "encoding": {"text": {"field": "b"}}},
           {"mark": {"type": "text", "align": "left", "baseline": "alphabetic", "dx": 28, "dy": 11, "fontSize": 17}, "encoding": {"text": {"field": "c"}}}
         ]},
        {"width": 1, "height": 28, "view": {"fill": "#666666", "stroke": null}, "data": {"values": []}, "mark": "point"},
        {"width": 120, "height": 28, "data": {"values": [{"txt": "SEL"}]}, "mark": {"type": "text", "baseline": "alphabetic", "dy": 11, "fontSize": 17}, "encoding": {"text": {"field": "txt"}}}
      ], "spacing": 0, "bounds": "flush"},
      {"width": 530, "height": 1, "view": {"fill": "#111111", "stroke": null}, "data": {"values": []}, "mark": "point"},
      {"hconcat": [
        {"width": 1, "height": 30, "view": {"fill": "#111111", "stroke": null}, "data": {"values": []}, "mark": "point"},
        {"width": 176, "height": 30, "data": {"values": [{"txt": "25-Feet"}]}, "mark": {"type": "text", "baseline": "alphabetic", "dy": 13, "fontSize": 17}, "encoding": {"text": {"field": "txt"}}},
        {"width": 1, "height": 30, "view": {"fill": "#666666", "stroke": null}, "data": {"values": []}, "mark": "point"},
        {"width": 116, "height": 30, "data": {"values": [{"txt": "196"}]}, "mark": {"type": "text", "baseline": "alphabetic", "dy": 13, "fontSize": 17}, "encoding": {"text": {"field": "txt"}}},
        {"width": 1, "height": 30, "view": {"fill": "#666666", "stroke": null}, "data": {"values": []}, "mark": "point"},
        {"width": 114, "height": 30, "data": {"values": [{"txt": "186"}]}, "mark": {"type": "text", "baseline": "alphabetic", "dy": 13, "fontSize": 17}, "encoding": {"text": {"field": "txt"}}},
        {"width": 1, "height": 30, "view": {"fill": "#666666", "stroke": null}, "data": {"values": []}, "mark": "point"},
        {"width": 120, "height": 30, "data": {"values": [{"txt": "170"}]}, "mark": {"type": "text", "baseline": "alphabetic", "dy": 13, "fontSize": 17}, "encoding": {"text": {"field": "txt"}}}
      ], "spacing": 0, "bounds": "flush"},
      {"width": 530, "height": 1, "view": {"fill": "#111111", "stroke": null}, "data": {"values": []}, "mark": "point"},
      {"hconcat": [
        {"width": 1, "height": 59, "view": {"fill": "#111111", "stroke": null}, "data": {"values": []}, "mark": "point"},
        {"width": 529, "height": 59, "data": {"values": []}, "mark": "point"}
      ], "spacing": 0, "bounds": "flush"},
      {"width": 530, "height": 1, "view": {"fill": "#111111", "stroke": null}, "data": {"values": []}, "mark": "point"},
      {"hconcat": [
        {"width": 1, "height": 29, "view": {"fill": "#111111", "stroke": null}, "data": {"values": []}, "mark": "point"},
        {"width": 529, "height": 29, "data": {"values": [{"txt": "*Impulse averaged over 90% of accumulated energy ( 5% to 95% )"}]}, "mark": {"type": "text", "align": "left", "baseline": "alphabetic", "dx": 0.5, "dy": 4, "fontSize": 17}, "encoding": {"text": {"field": "txt"}, "x": {"datum": 0, "type": "quantitative", "scale": {"domain": [0, 1]}, "axis": null}}}
      ], "spacing": 0, "bounds": "flush"},
      {"width": 1, "height": 146, "view": {"fill": "#111111", "stroke": null}, "data": {"values": []}, "mark": "point"}
    ], "spacing": 0, "bounds": "full"}
  ], "spacing": 0, "bounds": "full", "resolve": {"scale": {"color": "independent"}}}
]
}
